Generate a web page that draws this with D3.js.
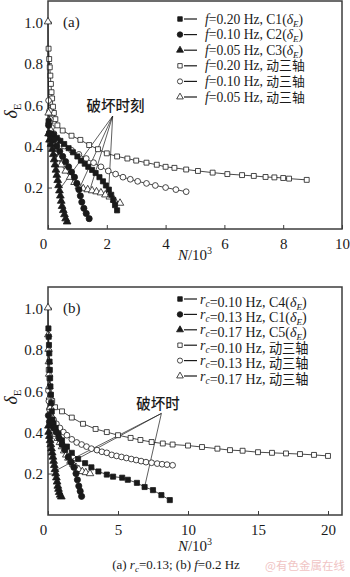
<!DOCTYPE html>
<html><head><meta charset="utf-8">
<script src="https://cdn.jsdelivr.net/npm/d3@7"></script>
<style>
html,body{margin:0;padding:0;background:#fff;}
svg{display:block;font-family:"Liberation Serif","Times New Roman",serif;}
</style></head><body>
<svg id="chart" width="350" height="577"></svg>
<script>
// ---------- Panel (a): effect of loading frequency f (r_c = 0.13) ----------
const aTicksX = [0, 2, 4, 6, 8, 10];
const aTicksY = [0.2, 0.4, 0.6, 0.8, 1.0];

// model results, δE vs N/10^3
const aC1 = [[0.02,0.52],[0.05,0.46],[0.12,0.46],[0.20,0.455],[0.30,0.44],[0.42,0.425],[0.55,0.41],[0.70,0.39],[0.85,0.37],[1.00,0.35],[1.12,0.33],[1.25,0.315],[1.37,0.30],[1.50,0.285],[1.62,0.27],[1.75,0.25],[1.87,0.23],[1.97,0.21],[2.07,0.19],[2.15,0.165],[2.22,0.14],[2.28,0.115],[2.35,0.09]];
const aC2 = [[0.02,0.50],[0.05,0.46],[0.10,0.45],[0.20,0.43],[0.30,0.40],[0.40,0.375],[0.50,0.35],[0.60,0.325],[0.70,0.30],[0.80,0.275],[0.90,0.25],[0.98,0.22],[1.05,0.19],[1.10,0.16],[1.15,0.13],[1.22,0.10],[1.30,0.075],[1.40,0.05]];
const aC3 = [[0.02,0.46],[0.05,0.43],[0.10,0.41],[0.15,0.385],[0.18,0.36],[0.21,0.335],[0.24,0.31],[0.27,0.285],[0.30,0.26],[0.33,0.235],[0.36,0.21],[0.39,0.185],[0.42,0.16],[0.45,0.135],[0.48,0.11],[0.52,0.09],[0.56,0.07],[0.60,0.05],[0.65,0.035]];
// dynamic triaxial tests
const aT1 = [[0.02,0.87],[0.04,0.82],[0.06,0.78],[0.08,0.74],[0.10,0.70],[0.12,0.66],[0.14,0.63],[0.17,0.59],[0.20,0.56],[0.25,0.53],[0.32,0.50],[0.50,0.475],[0.80,0.45],[1.10,0.43],[1.40,0.405],[1.70,0.385],[2.00,0.365],[2.35,0.35],[2.70,0.34],[3.00,0.33],[3.35,0.32],[3.70,0.31],[4.00,0.30],[4.30,0.295],[4.70,0.287],[5.10,0.28],[5.60,0.272],[6.10,0.265],[6.60,0.26],[7.00,0.256],[7.40,0.251],[7.70,0.249],[8.00,0.246],[8.20,0.243],[8.80,0.237]];
const aT2 = [[0.02,0.62],[0.05,0.57],[0.08,0.53],[0.12,0.49],[0.20,0.46],[0.35,0.43],[0.55,0.40],[0.80,0.38],[1.05,0.36],[1.30,0.34],[1.55,0.32],[1.80,0.30],[2.05,0.28],[2.30,0.265],[2.55,0.25],[2.80,0.24],[3.05,0.23],[3.35,0.22],[3.65,0.21],[4.00,0.20],[4.35,0.19],[4.70,0.18]];
const aT3 = [[0,1.0],[0.02,0.56],[0.05,0.52],[0.08,0.48],[0.12,0.44],[0.18,0.40],[0.25,0.37],[0.35,0.34],[0.45,0.31],[0.60,0.28],[0.75,0.25],[0.90,0.225],[1.05,0.205],[1.20,0.195],[1.35,0.19],[1.50,0.185],[1.65,0.18],[1.80,0.175],[1.95,0.165],[2.10,0.155],[2.25,0.14],[2.45,0.125]];

const aLabels = ["=0.20 Hz, C1", "=0.10 Hz, C2", "=0.05 Hz, C3", "=0.20 Hz, 动三轴", "=0.10 Hz, 动三轴", "=0.05 Hz, 动三轴"];
const aFailTip = [2.2, 0.545];
const aFailPts = [[0.39,0.19],[1.08,0.20],[1.45,0.20],[2.05,0.15]];
const aFailText = "破坏时刻";
const aFailTextAt = [2.3, 0.57];

// ---------- Panel (b): effect of confining ratio r_c (f = 0.2 Hz) ----------
const bTicksX = [0, 5, 10, 15, 20];
const bTicksY = [0.2, 0.4, 0.6, 0.8, 1.0];

const bC4 = [[0.03,0.90],[0.05,0.86],[0.07,0.82],[0.09,0.78],[0.11,0.74],[0.13,0.70],[0.15,0.66],[0.17,0.62],[0.20,0.58],[0.23,0.54],[0.27,0.50],[0.32,0.46],[0.40,0.44],[0.55,0.42],[0.75,0.39],[1.00,0.36],[1.35,0.33],[1.70,0.30],[2.15,0.27],[2.65,0.25],[3.10,0.23],[3.60,0.21],[4.20,0.195],[4.65,0.185],[5.30,0.18],[5.70,0.17],[6.35,0.155],[6.90,0.135],[7.50,0.12],[8.10,0.096],[8.70,0.072]];
const bC1 = [[0.03,0.48],[0.10,0.45],[0.20,0.44],[0.40,0.42],[0.60,0.40],[0.80,0.37],[1.00,0.34],[1.20,0.315],[1.45,0.28],[1.65,0.255],[1.85,0.23],[2.00,0.20],[2.10,0.17],[2.20,0.14],[2.30,0.115],[2.40,0.09]];
const bC5 = [[0.03,0.43],[0.05,0.40],[0.10,0.38],[0.15,0.36],[0.20,0.34],[0.25,0.32],[0.30,0.30],[0.35,0.28],[0.40,0.26],[0.45,0.24],[0.50,0.22],[0.55,0.20],[0.60,0.18],[0.65,0.16],[0.70,0.14],[0.75,0.125],[0.80,0.11],[0.87,0.097],[0.95,0.088]];
const bT1 = [[0.05,0.70],[0.10,0.66],[0.15,0.62],[0.20,0.58],[0.30,0.55],[0.50,0.52],[1.00,0.50],[1.70,0.47],[2.50,0.44],[3.40,0.415],[4.20,0.40],[5.00,0.385],[5.90,0.372],[6.60,0.362],[7.40,0.352],[8.20,0.345],[8.90,0.34],[10.0,0.335],[11.0,0.328],[12.1,0.32],[13.0,0.313],[13.9,0.31],[15.0,0.303],[16.0,0.30],[17.0,0.297],[18.0,0.294],[19.0,0.29],[20.0,0.285]];
const bT2 = [[0.03,0.60],[0.06,0.55],[0.10,0.51],[0.20,0.48],[0.40,0.46],[0.60,0.44],[0.85,0.42],[1.10,0.40],[1.35,0.385],[1.70,0.365],[2.05,0.35],[2.40,0.34],[2.75,0.33],[3.10,0.32],[3.50,0.313],[3.85,0.305],[4.20,0.30],[4.55,0.29],[4.90,0.285],[5.25,0.28],[5.60,0.275],[5.95,0.27],[6.30,0.265],[6.65,0.26],[7.00,0.255],[7.40,0.252],[7.80,0.248],[8.15,0.245],[8.50,0.243],[8.90,0.24]];
const bT3 = [[0,1.0],[0.02,0.87],[0.04,0.80],[0.06,0.74],[0.08,0.68],[0.10,0.62],[0.13,0.57],[0.17,0.52],[0.22,0.48],[0.30,0.44],[0.40,0.41],[0.55,0.39],[0.70,0.37],[0.85,0.35],[1.00,0.33],[1.15,0.31],[1.30,0.29],[1.45,0.275],[1.60,0.26],[1.80,0.245],[2.00,0.23],[2.20,0.22],[2.45,0.21],[2.70,0.205],[3.00,0.20]];

const bLabels = ["=0.10 Hz, C4", "=0.13 Hz, C1", "=0.17 Hz, C5", "=0.10 Hz, 动三轴", "=0.13 Hz, 动三轴", "=0.17 Hz, 动三轴"];
const bFailTip = [8.1, 0.49];
const bFailPts = [[0.45,0.21],[1.45,0.26],[6.9,0.135]];
const bFailText = "破坏时";
const bFailTextAt = [7.85, 0.51];

// ---------- drawing ----------
const SERIF = '"Liberation Serif","Times New Roman",serif';
const CJK = '"Noto Sans CJK SC"';
const svg = d3.select("#chart");
const INK = "#1a1a1a";
const FRAME = "#3c3c3c";

const symbols = [
  {type: d3.symbolSquare,   size: 26, fill: INK},
  {type: d3.symbolCircle,   size: 30, fill: INK},
  {type: d3.symbolTriangle, size: 26, fill: INK},
  {type: d3.symbolSquare,   size: 24, fill: "#fff"},
  {type: d3.symbolCircle,   size: 26, fill: "#fff"},
  {type: d3.symbolTriangle, size: 24, fill: "#fff"}
];

function drawPanel(cfg) {
  const g = svg.append("g");
  const x = d3.scaleLinear().domain(cfg.xDomain).range([cfg.left, cfg.right]);
  const y = d3.scaleLinear().domain([0, 1.1]).range([cfg.bottom, cfg.top]);

  // axes with inward ticks
  const ax = g.append("g").attr("transform", `translate(0,${cfg.bottom})`)
    .call(d3.axisBottom(x).tickValues(cfg.ticksX).tickSize(-4).tickPadding(9).tickFormat(d3.format("d")));
  const ay = g.append("g").attr("transform", `translate(${cfg.left},0)`)
    .call(d3.axisLeft(y).tickValues(cfg.ticksY).tickSize(-4).tickPadding(5).tickFormat(d3.format(".1f")));
  [ax, ay].forEach(a => {
    a.attr("font-family", SERIF);
    a.select(".domain").remove();
    a.selectAll("line").attr("stroke", FRAME).attr("stroke-width", 1);
    a.selectAll("text").attr("font-family", SERIF).attr("font-size", 15).attr("fill", INK);
  });
  ax.selectAll(".tick").filter(d => d === 0).select("text").attr("dx", -5);
  ay.selectAll("text").attr("dy", "0.36em");

  // frame
  g.append("rect").attr("x", cfg.left).attr("y", cfg.top)
    .attr("width", cfg.right - cfg.left).attr("height", cfg.bottom - cfg.top)
    .attr("fill", "none").attr("stroke", FRAME).attr("stroke-width", 1.5);

  // failure leaders
  cfg.failPts.forEach(p => {
    g.append("line")
      .attr("x1", x(cfg.failTip[0])).attr("y1", y(cfg.failTip[1]))
      .attr("x2", x(p[0])).attr("y2", y(p[1]))
      .attr("stroke", INK).attr("stroke-width", 0.7);
  });

  // series (dynamic triaxial drawn first, model on top)
  const line = d3.line().x(d => x(d[0])).y(d => y(d[1]));
  [3, 4, 5, 0, 1, 2].forEach(i => {
    const s = cfg.series[i];
    g.append("path").datum(s).attr("d", line)
      .attr("fill", "none").attr("stroke", INK).attr("stroke-width", 0.8);
    g.selectAll(null).data(s).join("path")
      .attr("transform", d => `translate(${x(d[0])},${y(d[1])})`)
      .attr("d", d3.symbol().type(symbols[i].type).size(symbols[i].size))
      .attr("fill", symbols[i].fill).attr("stroke", INK).attr("stroke-width", 0.8);
  });

  // failure text
  g.append("text").attr("x", x(cfg.failTextAt[0])).attr("y", y(cfg.failTextAt[1]))
    .attr("text-anchor", "middle").attr("font-family", CJK)
    .attr("font-size", 14.5).attr("font-weight", 500).attr("fill", INK).text(cfg.failText);

  // panel tag
  g.append("text").attr("x", cfg.left + 15).attr("y", y(1.0) + 5)
    .attr("font-size", 15).attr("fill", INK).text(cfg.tag);

  // y label δE
  const yl = g.append("text")
    .attr("transform", `translate(17,${(cfg.top + cfg.bottom) / 2 - 4}) rotate(-90)`)
    .attr("text-anchor", "middle").attr("fill", INK);
  yl.append("tspan").attr("font-style", "italic").attr("font-size", 18).text("δ");
  yl.append("tspan").attr("font-size", 11).attr("dy", 4).text("E");

  // x label N/10^3
  const xl = g.append("text").attr("x", (cfg.left + cfg.right) / 2).attr("y", cfg.bottom + cfg.xLabelGap)
    .attr("text-anchor", "middle").attr("font-size", 15).attr("fill", INK);
  xl.append("tspan").attr("font-style", "italic").text("N");
  xl.append("tspan").text("/10");
  xl.append("tspan").attr("font-size", 10).attr("dy", -6).text("3");

  // legend
  cfg.labels.forEach((lab, i) => {
    const cy = cfg.legTop + i * cfg.legStep;
    g.append("path").attr("transform", `translate(180,${cy})`)
      .attr("d", d3.symbol().type(symbols[i].type).size(symbols[i].size * 0.8))
      .attr("fill", symbols[i].fill).attr("stroke", INK).attr("stroke-width", 0.8);
    g.append("line").attr("x1", 184).attr("x2", 197).attr("y1", cy).attr("y2", cy)
      .attr("stroke", INK).attr("stroke-width", 1.2);
    const t = g.append("text").attr("x", cfg.legTextX).attr("y", cy + 4.5)
      .attr("font-size", cfg.legFont).attr("fill", INK);
    cfg.legendPrefix(t);
    const [head, tail] = lab.split(", ");
    t.append("tspan").text(head + ", ");
    if (tail.startsWith("C")) {
      t.append("tspan").text(tail + "(");
      t.append("tspan").attr("font-style", "italic").text("δ");
      t.append("tspan").attr("font-style", "italic").attr("font-size", cfg.legFont * 0.66).attr("dy", 3).text("E");
      t.append("tspan").attr("dy", -3).text(")");
    } else {
      t.append("tspan").attr("font-family", CJK).attr("font-size", cfg.legFont - 0.8).text(tail);
    }
  });
}

drawPanel({
  tag: "(a)", left: 48, right: 342, top: 1, bottom: 229, xDomain: [0, 10],
  ticksX: aTicksX, ticksY: aTicksY, xLabelGap: 31,
  series: [aC1, aC2, aC3, aT1, aT2, aT3],
  failTip: aFailTip, failPts: aFailPts, failText: aFailText, failTextAt: aFailTextAt,
  labels: aLabels, legTop: 19, legStep: 15.6, legTextX: 205, legFont: 13.6,
  legendPrefix: t => t.append("tspan").attr("font-style", "italic").text("f")
});

drawPanel({
  tag: "(b)", left: 48, right: 342, top: 287, bottom: 515, xDomain: [0, 21],
  ticksX: bTicksX, ticksY: bTicksY, xLabelGap: 36,
  series: [bC4, bC1, bC5, bT1, bT2, bT3],
  failTip: bFailTip, failPts: bFailPts, failText: bFailText, failTextAt: bFailTextAt,
  labels: bLabels, legTop: 299, legStep: 15.4, legTextX: 200, legFont: 14,
  legendPrefix: t => {
    t.append("tspan").attr("font-style", "italic").text("r");
    t.append("tspan").attr("font-style", "italic").attr("font-size", 9.5).attr("dy", 3).text("c");
    t.append("tspan").attr("dy", -3).text("");
  }
});

// caption
const cap = svg.append("text").attr("x", 176).attr("y", 569).attr("text-anchor", "middle")
  .attr("font-size", 13).attr("fill", INK);
cap.append("tspan").text("(a) ");
cap.append("tspan").attr("font-style", "italic").text("r");
cap.append("tspan").attr("font-style", "italic").attr("font-size", 9).attr("dy", 3).text("c");
cap.append("tspan").attr("dy", -3).text("=0.13; (b) ");
cap.append("tspan").attr("font-style", "italic").text("f");
cap.append("tspan").text("=0.2 Hz");

svg.append("text").attr("x", 345).attr("y", 570).attr("text-anchor", "end")
  .attr("font-family", CJK).attr("font-size", 11.5)
  .attr("fill", "#f0c4c4").text("@有色金属在线");
</script>
</body></html>
